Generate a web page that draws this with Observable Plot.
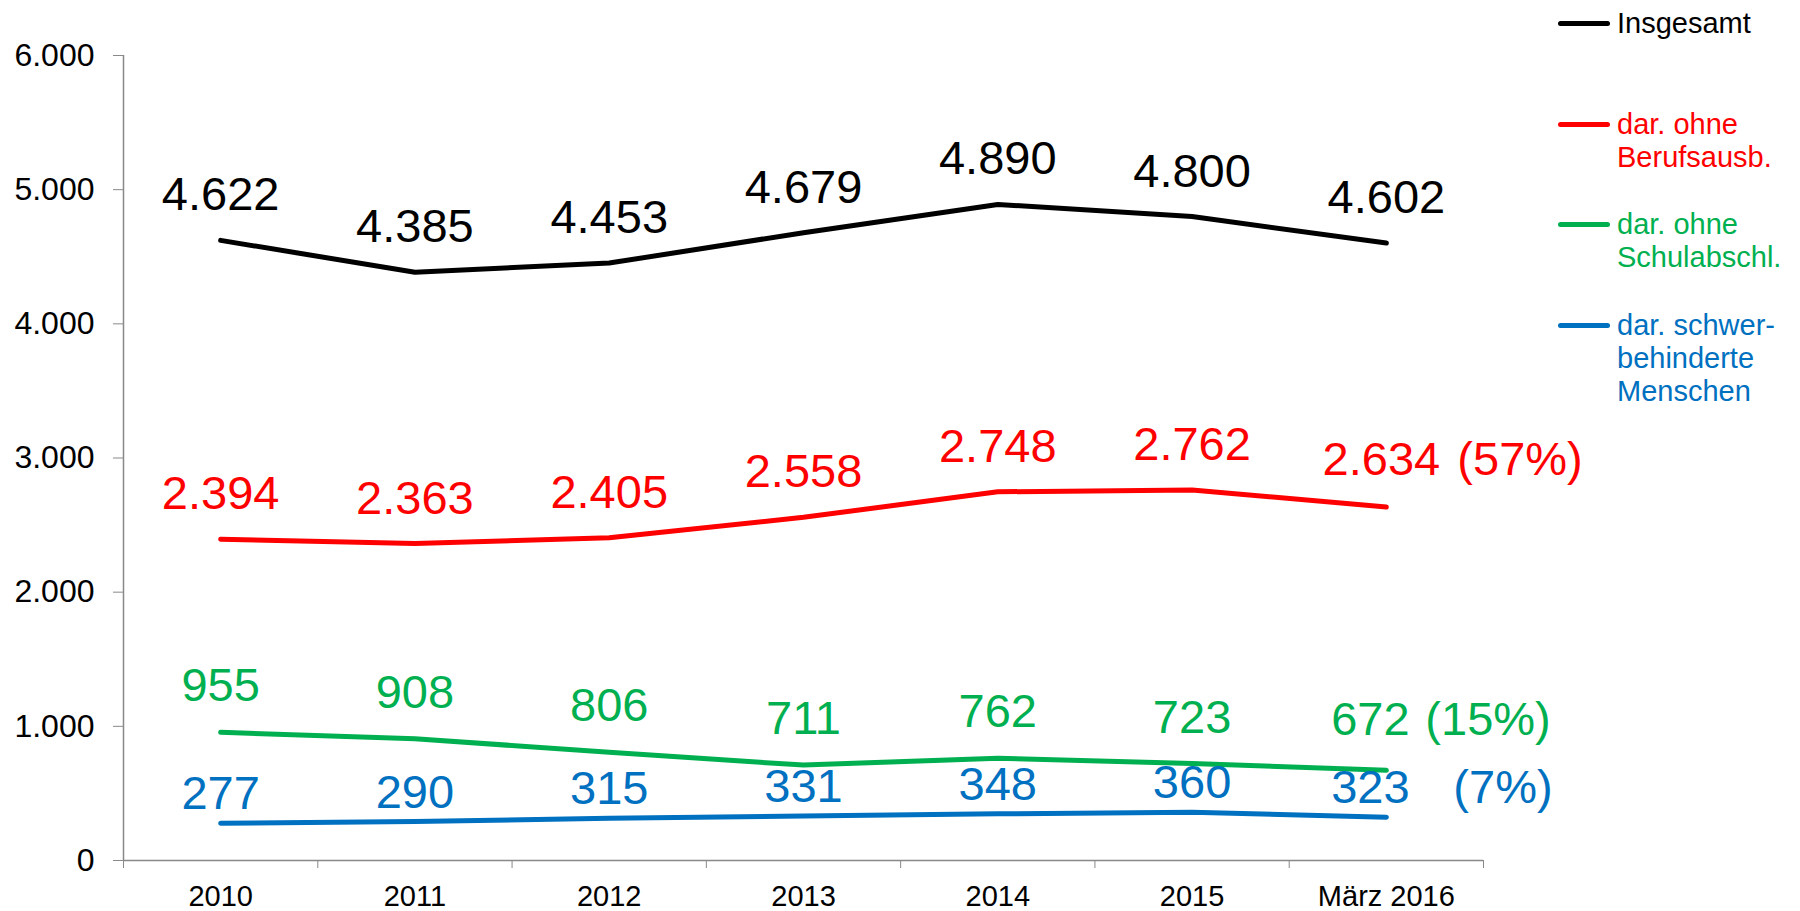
<!DOCTYPE html>
<html>
<head>
<meta charset="utf-8">
<script src="https://cdn.jsdelivr.net/npm/d3@7"></script>
<script src="https://cdn.jsdelivr.net/npm/@observablehq/plot@0.6"></script>
<style>
  body { margin: 0; background: #fff; font-family: "Liberation Sans", Arial, sans-serif; }
  #wrap { position: relative; width: 1800px; height: 911px; }
  .lg-item { position: absolute; left: 1558px; display: flex; align-items: flex-start; }
  .lg-swatch { width: 52px; height: 5px; border-radius: 3px; margin-top: 14px; }
  .lg-text { margin-left: 7px; font-size: 29px; line-height: 33px; white-space: nowrap; }
</style>
</head>
<body>
<div id="wrap"></div>
<script>
// ---- data ----
const categories = ["2010", "2011", "2012", "2013", "2014", "2015", "März 2016"];
const insgesamt      = [4622, 4385, 4453, 4679, 4890, 4800, 4602];
const ohneBerufsausb = [2394, 2363, 2405, 2558, 2748, 2762, 2634];
const ohneSchulabschl= [955, 908, 806, 711, 762, 723, 672];
const schwerbehindert= [277, 290, 315, 331, 348, 360, 323];
const seriesNames = ["Insgesamt", "dar. ohne Berufsausb.", "dar. ohne Schulabschl.", "dar. schwerbehinderte Menschen"];
const legendLines = [["Insgesamt"], ["dar. ohne", "Berufsausb."], ["dar. ohne", "Schulabschl."], ["dar. schwer-", "behinderte", "Menschen"]];
const shareLabels = ["", "(57%)", "(15%)", "(7%)"];
const yTicks = [0, 1000, 2000, 3000, 4000, 5000, 6000];

// ---- styling ----
const colors = ["#000000", "#ff0000", "#00b050", "#0070c0"];
const labelDy = [-45, -45, -46, -29];
const lastDy = [-45, -47, -50, -29];
const lastDx = [0, -5, -16, -16];
const shareDx = [0, 71, 39, 67];
const legendTop = [7, 108, 208, 309];
const axisColor = "#898989";

const de = d3.formatLocale({decimal: ",", thousands: ".", grouping: [3], currency: ["", "€"]});
const fmt = de.format(",d");

const allValues = [insgesamt, ohneBerufsausb, ohneSchulabschl, schwerbehindert];
const seriesRows = allValues.map((vals, s) =>
  vals.map((v, i) => ({series: seriesNames[s], i, v}))
);

const marks = [
  Plot.ruleX([-0.5], {y1: 0, y2: 6000, stroke: axisColor, strokeWidth: 1.5}),
  Plot.axisY({ticks: yTicks, tickSize: 10, tickPadding: 19, tickFormat: fmt, fontSize: 32, stroke: axisColor, fill: "#000", label: null}),
  Plot.axisX({ticks: d3.range(-0.5, 7, 1), tickSize: 8, tickFormat: () => "", stroke: axisColor, label: null}),
  Plot.axisX({ticks: d3.range(categories.length), tickSize: 0, tickPadding: 25, tickFormat: i => categories[i], fontSize: 29, fill: "#000", label: null}),
  Plot.ruleY([0], {x1: -0.5, x2: 6.5, stroke: axisColor, strokeWidth: 1.5})
];

seriesRows.forEach((rows, s) => {
  const n = rows.length;
  marks.push(Plot.line(rows, {x: "i", y: "v", stroke: colors[s], strokeWidth: 5, strokeLinecap: "round", strokeLinejoin: "round"}));
  marks.push(Plot.text(rows.slice(0, n - 1), {x: "i", y: "v", text: d => fmt(d.v), fill: colors[s], fontSize: 47, dy: labelDy[s], lineAnchor: "middle"}));
  marks.push(Plot.text(rows.slice(n - 1), {x: "i", y: "v", text: d => fmt(d.v), fill: colors[s], fontSize: 47, dy: lastDy[s], dx: lastDx[s], lineAnchor: "middle"}));
  if (shareLabels[s]) {
    marks.push(Plot.text(rows.slice(n - 1), {x: "i", y: "v", text: () => shareLabels[s], fill: colors[s], fontSize: 47, dy: lastDy[s], dx: shareDx[s], textAnchor: "start", lineAnchor: "middle"}));
  }
});

const chart = Plot.plot({
  width: 1800,
  height: 911,
  marginLeft: 123,
  marginRight: 317,
  marginTop: 55,
  marginBottom: 51,
  style: {fontFamily: "'Liberation Sans', Arial, sans-serif", background: "#fff", color: "#000"},
  x: {type: "linear", domain: [-0.5, 6.5]},
  y: {type: "linear", domain: [0, 6000]},
  marks
});

const wrap = document.getElementById("wrap");
wrap.appendChild(chart);

legendLines.forEach((lines, s) => {
  const item = document.createElement("div");
  item.className = "lg-item";
  item.style.top = legendTop[s] + "px";
  const sw = document.createElement("div");
  sw.className = "lg-swatch";
  sw.style.background = colors[s];
  const tx = document.createElement("div");
  tx.className = "lg-text";
  tx.style.color = colors[s];
  tx.innerHTML = lines.join("<br>");
  item.appendChild(sw);
  item.appendChild(tx);
  wrap.appendChild(item);
});
</script>
</body>
</html>
